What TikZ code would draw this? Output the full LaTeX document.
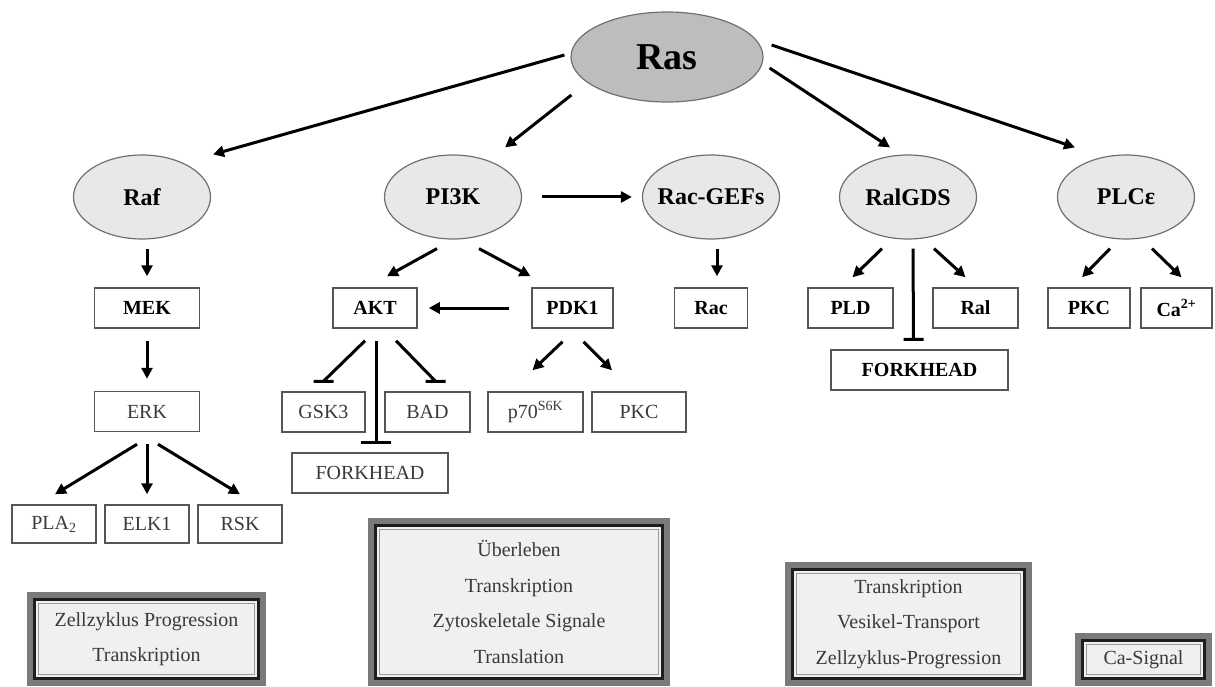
\documentclass[tikz,border=0pt]{standalone}
\usepackage{fontspec}
\setmainfont{Liberation Serif}
\usetikzlibrary{shapes.geometric,arrows.meta}
\definecolor{ellfill}{HTML}{E8E8E8}
\definecolor{rasfill}{HTML}{BDBDBD}
\definecolor{edgegray}{HTML}{707070}
\definecolor{boxedge}{HTML}{555555}
\definecolor{txtgray}{HTML}{3A3A3A}
\definecolor{sumfill}{HTML}{F0F0F0}
\definecolor{frameA}{HTML}{7A7A7A}
\definecolor{frameB}{HTML}{1E1E1E}
\definecolor{frameC}{HTML}{9A9A9A}
\newcommand\sumframe[1]{%
  \draw[frameA, line width=6pt] ([shift={(3,3)}]#1.north west) rectangle ([shift={(-3,-3)}]#1.south east);
  \draw[frameB, line width=3pt] ([shift={(7.5,7.5)}]#1.north west) rectangle ([shift={(-7.5,-7.5)}]#1.south east);
  \draw[frameC, line width=1pt] ([shift={(11.5,11.5)}]#1.north west) rectangle ([shift={(-11.5,-11.5)}]#1.south east);
}
\begin{document}
\begin{tikzpicture}[x=1pt,y=-1pt,
  ell/.style={ellipse, draw=edgegray, line width=1.2pt, fill=ellfill, inner sep=0pt,
    minimum width=137pt, minimum height=84pt, font=\fontsize{24}{28}\selectfont\bfseries},
  bx/.style={rectangle, draw=boxedge, line width=1.5pt, fill=white, inner sep=0pt, minimum height=40pt},
  bb/.style={bx, font=\fontsize{20}{24}\selectfont\bfseries},
  br/.style={bx, font=\fontsize{20}{24}\selectfont, text=txtgray},
  sumbox/.style={rectangle, fill=sumfill, inner sep=0pt, align=center, text=txtgray,
    font=\fontsize{20}{35.5}\selectfont},
  arr/.style={line width=3pt, -{Triangle[length=11pt,width=11pt]}},
  inh/.style={line width=3pt, line cap=butt}]
\useasboundingbox (0,0) rectangle (1215,687);

% ellipses
\node[ell, fill=rasfill, minimum width=192pt, minimum height=90pt,
  font=\fontsize{38}{44}\selectfont\bfseries] (ras) at (667,57) {Ras};
\node[ell] (raf) at (142,197) {\makebox[0pt]{Raf}};
\node[ell] (pi3k) at (453,197) {\makebox[0pt]{PI3K}};
\node[ell] (racgef) at (711,197) {\makebox[0pt]{Rac-GEFs}};
\node[ell] (ralgds) at (908,197) {\makebox[0pt]{RalGDS}};
\node[ell] (plc) at (1126,197) {\makebox[0pt]{PLCε}};

% boxes
\node[bb, minimum width=105pt] (mek) at (147,308) {MEK};
\node[br, minimum width=105pt] (erk) at (147,411.5) {ERK};
\node[br, minimum width=84pt, minimum height=38pt] (pla2) at (54,524) {PLA\textsubscript{2}};
\node[br, minimum width=84pt, minimum height=38pt] (elk1) at (147,524) {ELK1};
\node[br, minimum width=84pt, minimum height=38pt] (rsk) at (240,524) {RSK};
\node[bb, minimum width=84pt] (akt) at (375,308) {AKT};
\node[bb, minimum width=81pt] (pdk1) at (572.5,308) {PDK1};
\node[bb, minimum width=73pt] (rac) at (711,308) {Rac};
\node[br, minimum width=83pt] (gsk3) at (323.5,412) {GSK3};
\node[br, minimum width=85pt] (bad) at (427.5,412) {BAD};
\node[br, minimum width=95pt] (p70) at (535.5,412) {p70\textsuperscript{S6K}};
\node[br, minimum width=94pt] (pkc) at (639,412) {PKC};
\node[br, minimum width=156pt] (forkl) at (370,473) {FORKHEAD};
\node[bb, minimum width=85pt] (pld) at (850.5,308) {PLD};
\node[bb, minimum width=85pt] (ral) at (975.5,308) {Ral};
\node[bb, minimum width=177pt] (forkr) at (919.5,370) {FORKHEAD};
\node[bb, minimum width=82pt] (pkc2) at (1089,308) {PKC};
\node[bb, minimum width=71pt] (ca) at (1176.5,308) {Ca\textsuperscript{2+}};

% summary boxes
\node[sumbox, minimum width=239pt, minimum height=94pt] (s1) at (146.5,639) {Zellzyklus Progression\\Transkription};
\node[sumbox, minimum width=302pt, minimum height=168pt] (s2) at (519,602) {Überleben\\Transkription\\Zytoskeletale Signale\\Translation};
\node[sumbox, minimum width=247pt, minimum height=124pt] (s3) at (908.5,624) {Transkription\\Vesikel-Transport\\Zellzyklus-Progression};
\node[sumbox, minimum width=137pt, minimum height=53pt] (s4) at (1143.5,659.5) {Ca-Signal};
\sumframe{s1}
\sumframe{s2}
\sumframe{s3}
\sumframe{s4}

% arrows from Ras
\draw[arr] ([shift={(-6,-2)}]ras.west) -- ([shift={(71,0)}]raf.north);
\draw[arr] ([shift={(1,38)}]ras.west) -- ([shift={(52,-7)}]pi3k.north);
\draw[arr] ([shift={(6,11)}]ras.east) -- ([shift={(-18,-7)}]ralgds.north);
\draw[arr] ([shift={(8,-12)}]ras.east) -- ([shift={(-51,-7)}]plc.north);

% Raf branch
\draw[arr] ([shift={(5,9)}]raf.south) -- ([shift={(0,-11)}]mek.north);
\draw[arr] ([shift={(0,12)}]mek.south) -- ([shift={(0,-12)}]erk.north);
\draw[arr] ([shift={(-10,12)}]erk.south) -- ([shift={(1,-10)}]pla2.north);
\draw[arr] ([shift={(0,12)}]erk.south) -- ([shift={(0,-10)}]elk1.north);
\draw[arr] ([shift={(11,12)}]erk.south) -- ([shift={(0,-10)}]rsk.north);

% PI3K branch
\draw[arr] ([shift={(20,0)}]pi3k.east) -- ([shift={(-10,0)}]racgef.west);
\draw[arr] ([shift={(-16,9)}]pi3k.south) -- ([shift={(12,-11)}]akt.north);
\draw[arr] ([shift={(26,9)}]pi3k.south) -- ([shift={(-42,-11)}]pdk1.north);
\draw[arr] ([shift={(6,9)}]racgef.south) -- ([shift={(6,-11)}]rac.north);
\draw[arr] ([shift={(-22,0)}]pdk1.west) -- ([shift={(11,0)}]akt.east);
\draw[arr] ([shift={(-10,13)}]pdk1.south) -- ([shift={(-3,-21)}]p70.north);
\draw[arr] ([shift={(11,13)}]pdk1.south) -- ([shift={(-27,-21)}]pkc.north);
\draw[inh] ([shift={(-10,12)}]akt.south) -- ([shift={(0,-10)}]gsk3.north) +(-10,0) -- +(10,0);
\draw[inh] ([shift={(1,12)}]akt.south) -- ([shift={(6,-10)}]forkl.north) +(-15,0) -- +(15,0);
\draw[inh] ([shift={(21,12)}]akt.south) -- ([shift={(8,-10)}]bad.north) +(-10,0) -- +(10,0);

% RalGDS branch
\draw[arr] ([shift={(-26,9)}]ralgds.south) -- ([shift={(2,-10)}]pld.north);
\draw[arr] ([shift={(26,9)}]ralgds.south) -- ([shift={(-10,-10)}]ral.north);
\draw[inh] ([shift={(5,9)}]ralgds.south) -- ([shift={(-6,-10)}]forkr.north) +(-10,0) -- +(10,0);

% PLC branch
\draw[arr] ([shift={(-16,9)}]plc.south) -- ([shift={(-7,-10)}]pkc2.north);
\draw[arr] ([shift={(26,9)}]plc.south) -- ([shift={(5,-10)}]ca.north);
\end{tikzpicture}
\end{document}
